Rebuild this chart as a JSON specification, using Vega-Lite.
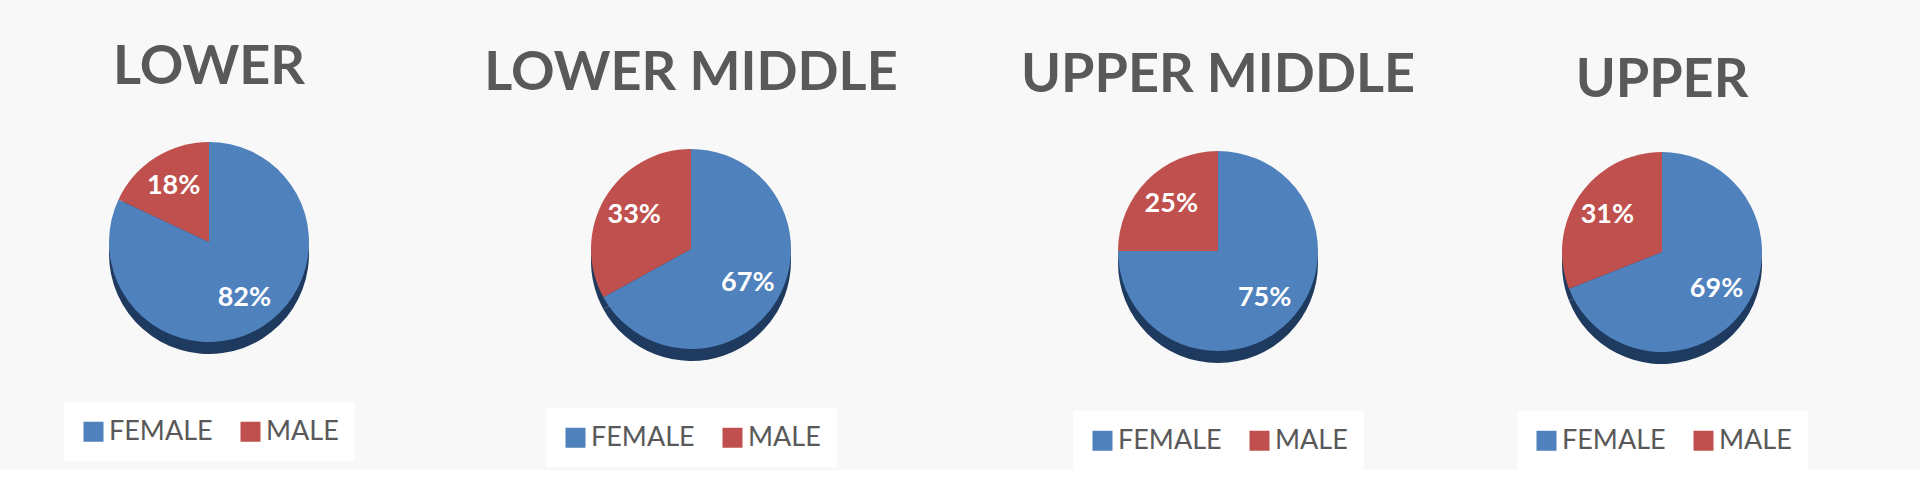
{
  "$schema": "https://vega.github.io/schema/vega-lite/v6.json",
  "background": "#f8f8f8",
  "padding": {"left": 0, "top": 41, "right": 68, "bottom": 0},
  "spacing": 0,
  "datasets": {
    "shares": [
      {"group": "LOWER", "gender": "FEMALE", "share": 0.82},
      {"group": "LOWER", "gender": "MALE", "share": 0.18},
      {"group": "LOWER MIDDLE", "gender": "FEMALE", "share": 0.67},
      {"group": "LOWER MIDDLE", "gender": "MALE", "share": 0.33},
      {"group": "UPPER MIDDLE", "gender": "FEMALE", "share": 0.75},
      {"group": "UPPER MIDDLE", "gender": "MALE", "share": 0.25},
      {"group": "UPPER", "gender": "FEMALE", "share": 0.69},
      {"group": "UPPER", "gender": "MALE", "share": 0.31}
    ]
  },
  "data": {"name": "shares"},
  "hconcat": [
    {
      "width": 418,
      "height": 258,
      "title": {"text": "LOWER", "offset": 18},
      "transform": [{"filter": "datum.group === 'LOWER'"}],
      "encoding": {
        "theta": {"field": "share", "type": "quantitative", "stack": true},
        "order": {"field": "gender", "sort": "ascending"}
      },
      "layer": [
        {"mark": {"type": "arc", "outerRadius": 100, "yOffset": 12, "color": "#1f3a5f"}},
        {
          "mark": {"type": "arc", "outerRadius": 100},
          "encoding": {
            "color": {
              "field": "gender",
              "type": "nominal",
              "scale": {"domain": ["FEMALE", "MALE"], "range": ["#4f81bd", "#c0504d"]},
              "legend": {"title": null, "orient": "bottom", "direction": "horizontal", "offset": 31}
            }
          }
        },
        {
          "mark": {"type": "text", "radius": 66, "color": "white", "font": "Lato", "fontSize": 27, "fontWeight": "bold"},
          "encoding": {"text": {"field": "share", "type": "quantitative", "format": ".0%"}}
        }
      ]
    },
    {
      "width": 546,
      "height": 272,
      "title": {"text": "LOWER MIDDLE", "offset": 12},
      "transform": [{"filter": "datum.group === 'LOWER MIDDLE'"}],
      "encoding": {
        "theta": {"field": "share", "type": "quantitative", "stack": true},
        "order": {"field": "gender", "sort": "ascending"}
      },
      "layer": [
        {"mark": {"type": "arc", "outerRadius": 100, "yOffset": 12, "color": "#1f3a5f"}},
        {
          "mark": {"type": "arc", "outerRadius": 100},
          "encoding": {
            "color": {
              "field": "gender",
              "type": "nominal",
              "scale": {"domain": ["FEMALE", "MALE"], "range": ["#4f81bd", "#c0504d"]},
              "legend": {"title": null, "orient": "bottom", "direction": "horizontal", "offset": 23}
            }
          }
        },
        {
          "mark": {"type": "text", "radius": 66, "color": "white", "font": "Lato", "fontSize": 27, "fontWeight": "bold"},
          "encoding": {"text": {"field": "share", "type": "quantitative", "format": ".0%"}}
        }
      ]
    },
    {
      "width": 508,
      "height": 276,
      "title": {"text": "UPPER MIDDLE", "offset": 10},
      "transform": [{"filter": "datum.group === 'UPPER MIDDLE'"}],
      "encoding": {
        "theta": {"field": "share", "type": "quantitative", "stack": true},
        "order": {"field": "gender", "sort": "ascending"}
      },
      "layer": [
        {"mark": {"type": "arc", "outerRadius": 100, "yOffset": 12, "color": "#1f3a5f"}},
        {
          "mark": {"type": "arc", "outerRadius": 100},
          "encoding": {
            "color": {
              "field": "gender",
              "type": "nominal",
              "scale": {"domain": ["FEMALE", "MALE"], "range": ["#4f81bd", "#c0504d"]},
              "legend": {"title": null, "orient": "bottom", "direction": "horizontal", "offset": 22}
            }
          }
        },
        {
          "mark": {"type": "text", "radius": 66, "color": "white", "font": "Lato", "fontSize": 27, "fontWeight": "bold"},
          "encoding": {"text": {"field": "share", "type": "quantitative", "format": ".0%"}}
        }
      ]
    },
    {
      "width": 380,
      "height": 278,
      "title": {"text": "UPPER", "offset": 5},
      "transform": [{"filter": "datum.group === 'UPPER'"}],
      "encoding": {
        "theta": {"field": "share", "type": "quantitative", "stack": true},
        "order": {"field": "gender", "sort": "ascending"}
      },
      "layer": [
        {"mark": {"type": "arc", "outerRadius": 100, "yOffset": 12, "color": "#1f3a5f"}},
        {
          "mark": {"type": "arc", "outerRadius": 100},
          "encoding": {
            "color": {
              "field": "gender",
              "type": "nominal",
              "scale": {"domain": ["FEMALE", "MALE"], "range": ["#4f81bd", "#c0504d"]},
              "legend": {"title": null, "orient": "bottom", "direction": "horizontal", "offset": 20}
            }
          }
        },
        {
          "mark": {"type": "text", "radius": 66, "color": "white", "font": "Lato", "fontSize": 27, "fontWeight": "bold"},
          "encoding": {"text": {"field": "share", "type": "quantitative", "format": ".0%"}}
        }
      ]
    }
  ],
  "resolve": {"legend": {"color": "independent"}},
  "config": {
    "view": {"stroke": null},
    "title": {"font": "Lato", "fontSize": 54, "fontWeight": "bold", "color": "#595959", "anchor": "middle"},
    "legend": {
      "labelFont": "Lato",
      "labelFontSize": 27,
      "labelColor": "#595959",
      "labelLimit": 200,
      "labelOffset": 2,
      "symbolType": "square",
      "symbolSize": 400,
      "symbolStrokeWidth": 0,
      "symbolOpacity": 1,
      "columnPadding": 24,
      "fillColor": "white",
      "padding": 16,
      "layout": {"bottom": {"anchor": "middle"}}
    }
  }
}
